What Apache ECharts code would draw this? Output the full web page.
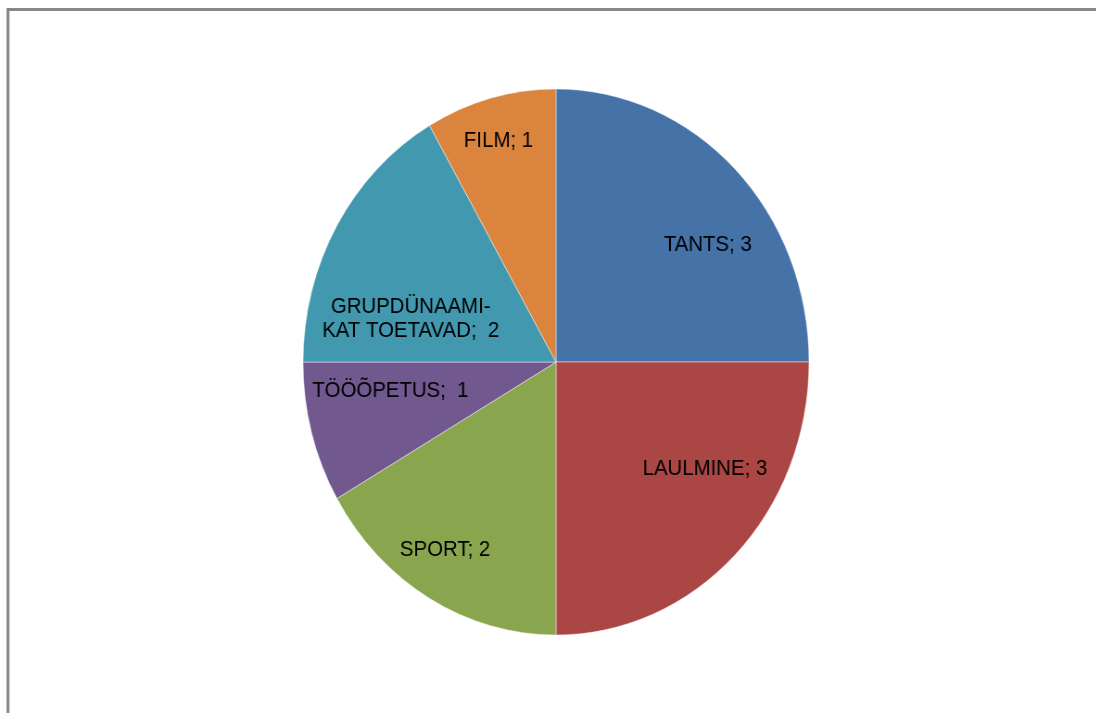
<!DOCTYPE html>
<html>
<head>
<meta charset="utf-8">
<script src="https://cdn.jsdelivr.net/npm/echarts@6/dist/echarts.min.js"></script>
<style>
  html, body { margin: 0; padding: 0; overflow: hidden; background: #fff; }
  /* the original pie is a bit narrower than tall, so the whole chart is squeezed a little */
  #container { width: 1183px; height: 713px; transform: scaleX(0.9267); transform-origin: 0 0; }
</style>
</head>
<body>
<div id="container"></div>
<script>
const categories = ['TANTS', 'LAULMINE', 'SPORT', 'TÖÖÕPETUS', 'GRUPDÜNAAMI-\nKAT TOETAVAD', 'FILM']
const values = [3, 3, 2, 1, 2, 1]
const separators = ['; ', '; ', '; ', ';  ', ';  ', '; ']
const colorList = ['#4572A7', '#AA4643', '#89A54E', '#71588F', '#4198AF', '#DB843D']

// move the inside labels to where the original puts them
const labelShift = [[65, -18], [62, 8], [-50, 67], [-44, -7], [-36, 27], [-26, -86]]

let myChart = echarts.init(document.getElementById('container'), null, { renderer: 'canvas' })
let option = {
  animation: false,
  graphic: [
    {
      type: 'rect',
      silent: true,
      shape: { x: 8.6, y: 9.5, width: 2000, height: 2000 },
      style: { fill: 'none', stroke: '#888888', lineWidth: 3.2 }
    }
  ],
  series: [
    {
      type: 'pie',
      center: [600, 362],
      radius: 273,
      startAngle: 90,
      clockwise: true,
      silent: true,
      itemStyle: {
        borderColor: 'rgba(255,255,255,0.45)',
        borderWidth: 1
      },
      label: {
        show: true,
        position: 'inside',
        color: '#000',
        fontFamily: 'Liberation Sans, Arial, sans-serif',
        fontSize: 22,
        lineHeight: 24,
        formatter: p => p.name + separators[p.dataIndex] + p.value
      },
      labelLine: { show: false },
      labelLayout: p => ({ dx: labelShift[p.dataIndex][0], dy: labelShift[p.dataIndex][1] }),
      data: categories.map((name, i) => ({
        name,
        value: values[i],
        itemStyle: { color: colorList[i] }
      }))
    }
  ]
}
myChart.setOption(option)
</script>
</body>
</html>
